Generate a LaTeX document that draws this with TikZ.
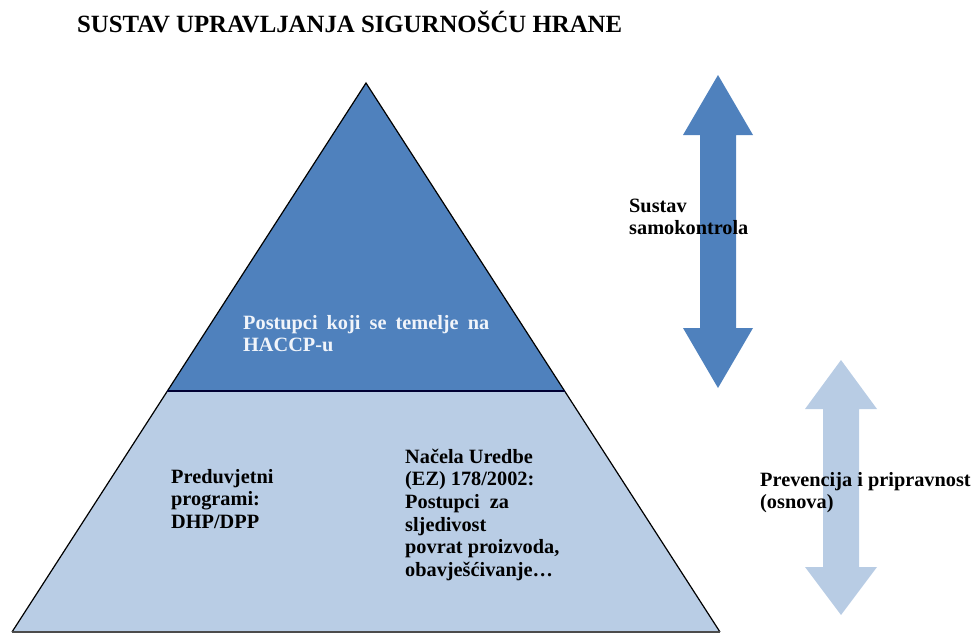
\documentclass[tikz,border=0pt]{standalone}
\usepackage{fontspec}
\setmainfont{Liberation Serif}
\definecolor{darkb}{HTML}{4F81BD}
\definecolor{lightb}{HTML}{B9CDE5}
\definecolor{arrowlight}{HTML}{B8CCE4}
\definecolor{paletxt}{HTML}{F0F4FA}
\begin{document}
\begin{tikzpicture}[x=1pt,y=-1pt,
  txt/.style={inner sep=0pt, anchor=base west, font=\bfseries\fontsize{20.3}{22.7}\selectfont},
  ttl/.style={inner sep=0pt, anchor=base west, font=\bfseries\fontsize{24.8}{28}\selectfont},
  outline/.style={line width=1.2pt, line join=miter},
  dblarrow/.style={draw=none}]
\useasboundingbox (0,0) rectangle (977,633);
% pyramid
\coordinate (apex) at (366,83);
\coordinate (bl) at (12,632);
\coordinate (br) at (720,632);
\coordinate (ml) at (167.4,391);
\coordinate (mr) at (564.6,391);
\fill[lightb] (ml) -- (mr) -- (br) -- (bl) -- cycle;
\fill[darkb] (apex) -- (mr) -- (ml) -- cycle;
\draw[outline] (bl) -- (apex) -- (br);
\draw[line width=1.5pt, color=black!80!blue] (ml) -- (mr);
\draw[line width=2pt, color=black!70] (bl) -- (br);
% arrows
\fill[darkb, dblarrow] (718,75) -- (753,135) -- (736,135) -- (736,328) -- (753,328) -- (718,388)
  -- (683,328) -- (700,328) -- (700,135) -- (683,135) -- cycle;
\fill[arrowlight, dblarrow] (841,360) -- (877,409) -- (859,409) -- (859,567) -- (877,567) -- (841,615)
  -- (805,567) -- (823,567) -- (823,409) -- (805,409) -- cycle;
% texts
\node[ttl] (title) at (77,32) {SUSTAV UPRAVLJANJA SIGURNOŠĆU HRANE};
\node[txt, text=paletxt] (haccp) at (243,329) {\vtop{\hbox{\makebox[246pt][s]{Postupci koji se temelje na}}\hbox{HACCP-u}}};
\node[txt] (prereq) at (171,483) {\vtop{\hbox{Preduvjetni}\hbox{programi:}\hbox{DHP/DPP}}};
\node[txt] (nacela) at (405,463) {\vtop{\hbox{Načela Uredbe}\hbox{(EZ) 178/2002:}\hbox{Postupci\ \ za}\hbox{sljedivost}\hbox{povrat proizvoda,}\hbox{obavješćivanje…}}};
\node[txt] (samok) at (629,212) {\vtop{\hbox{Sustav}\hbox{samokontrola}}};
\node[txt] (prev) at (760,486) {\vtop{\hbox{Prevencija i pripravnost}\hbox{(osnova)}}};
\end{tikzpicture}
\end{document}
